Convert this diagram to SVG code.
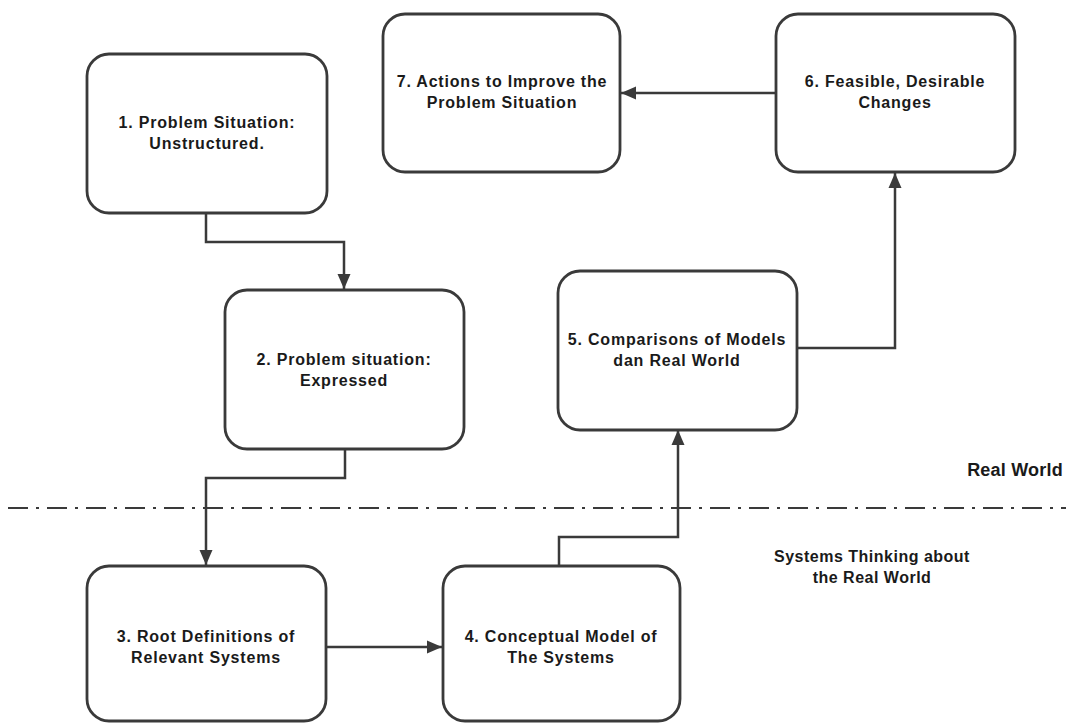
<svg xmlns="http://www.w3.org/2000/svg" width="1066" height="723" viewBox="0 0 1066 723">
<defs>
<style>
.node rect{fill:#fff;stroke:#3a3a3a;stroke-width:2.8}
.node text,.lbl{font-family:"Liberation Sans",Arial,sans-serif;font-weight:bold;font-size:16px;fill:#1a1a1a;text-anchor:middle;letter-spacing:0.8px}
.conn path{fill:none;stroke:#3a3a3a;stroke-width:2.5}
.sep{stroke:#3a3a3a;stroke-width:2;stroke-dasharray:20 8 3 8}
</style>
<marker id="arr" markerUnits="userSpaceOnUse" markerWidth="16" markerHeight="14" refX="15" refY="7" orient="auto">
<path d="M0,0.5 L15,7 L0,13.5 z" fill="#3a3a3a"/>
</marker>
</defs>
<rect width="1066" height="723" fill="#fff"/>
<line class="sep" x1="8" y1="508" x2="1066" y2="508"/>
<g id="connectors" class="conn">
<path d="M206,213 V242 H344 V289" marker-end="url(#arr)"/>
<path d="M345,449 V478 H206 V565" marker-end="url(#arr)"/>
<path d="M326,647 H442" marker-end="url(#arr)"/>
<path d="M559,566 V537 H678 V430" marker-end="url(#arr)"/>
<path d="M797,348 H895 V173" marker-end="url(#arr)"/>
<path d="M776,93 H621" marker-end="url(#arr)"/>
</g>
<g id="n1" class="node"><rect x="87" y="54" width="240" height="159" rx="22"/><text x="207" y="128">1. Problem Situation:</text><text x="207" y="149">Unstructured.</text></g>
<g id="n2" class="node"><rect x="225" y="290" width="239" height="159" rx="22"/><text x="344" y="365">2. Problem situation:</text><text x="344" y="386">Expressed</text></g>
<g id="n3" class="node"><rect x="87" y="566" width="239" height="155" rx="22"/><text x="206" y="642">3. Root Definitions of</text><text x="206" y="663">Relevant Systems</text></g>
<g id="n4" class="node"><rect x="443" y="566" width="237" height="155" rx="22"/><text x="561" y="642">4. Conceptual Model of</text><text x="561" y="663">The Systems</text></g>
<g id="n5" class="node"><rect x="558" y="271" width="239" height="159" rx="22"/><text x="677" y="345">5. Comparisons of Models</text><text x="677" y="366">dan Real World</text></g>
<g id="n6" class="node"><rect x="776" y="14" width="239" height="158" rx="22"/><text x="895" y="87">6. Feasible, Desirable</text><text x="895" y="108">Changes</text></g>
<g id="n7" class="node"><rect x="383" y="14" width="237" height="158" rx="22"/><text x="502" y="87">7. Actions to Improve the</text><text x="502" y="108">Problem Situation</text></g>
<text class="lbl" x="1015" y="476" style="font-size:18px;letter-spacing:0.2px">Real World</text>
<text class="lbl" x="872" y="562" style="letter-spacing:0.5px">Systems Thinking about</text>
<text class="lbl" x="872" y="583" style="letter-spacing:0.5px">the Real World</text>
</svg>
